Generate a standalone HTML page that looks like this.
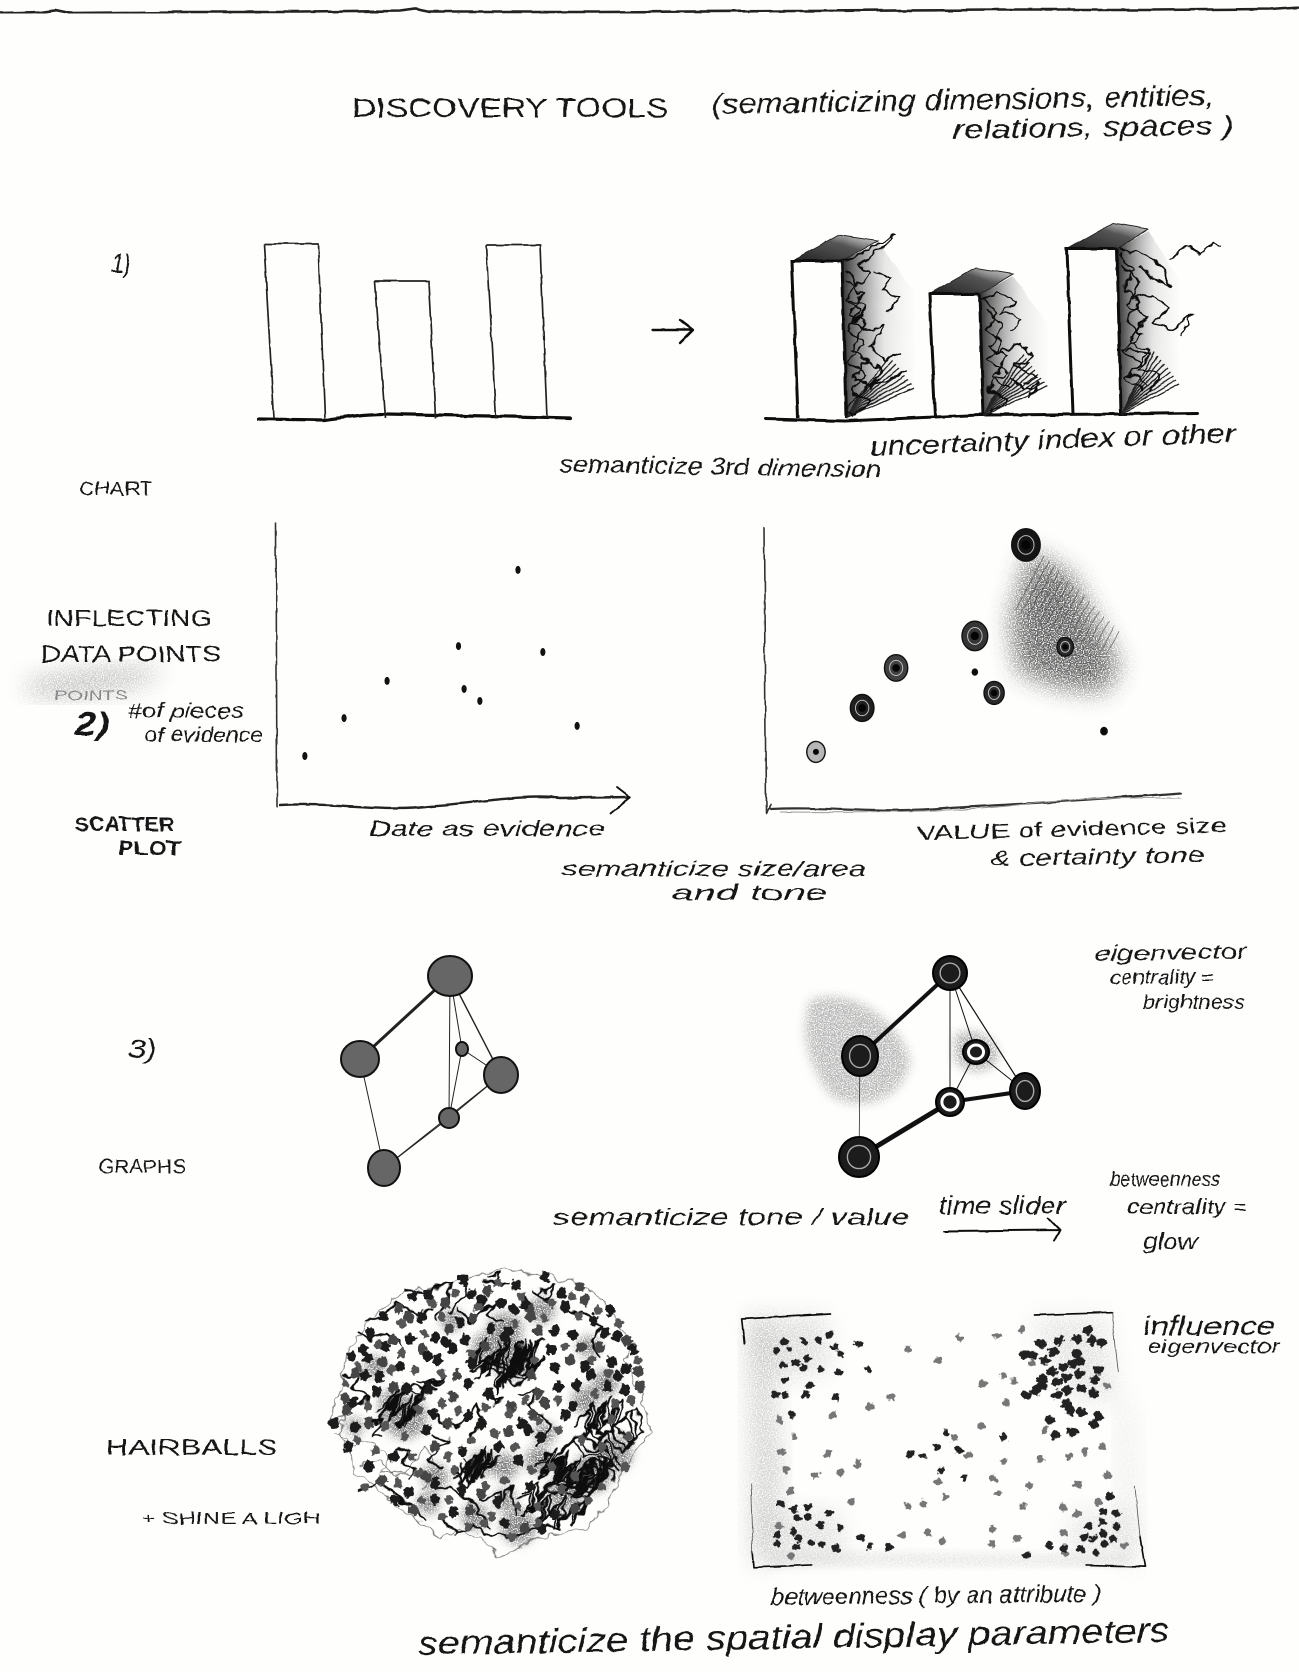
<!DOCTYPE html>
<html lang="en">
<head>
<meta charset="utf-8">
<title>Discovery Tools sketch</title>
<style>
html,body{margin:0;padding:0;background:#fefefd;}
svg{display:block;}
text{font-family:"Liberation Sans","DejaVu Sans",sans-serif;fill:#151515;font-style:italic;}
text.caps{font-style:normal;}
</style>
</head>
<body>
<svg id="sketch" xmlns="http://www.w3.org/2000/svg" width="1299" height="1672" viewBox="0 0 1299 1672">
<defs>
<filter id="wob" x="-5%" y="-5%" width="110%" height="110%"><feTurbulence type="fractalNoise" baseFrequency=".05" numOctaves="2" seed="3" result="n"/><feDisplacementMap in="SourceGraphic" in2="n" scale="3" xChannelSelector="R" yChannelSelector="G"/></filter>
<filter id="wobText" x="-2%" y="-5%" width="104%" height="110%"><feTurbulence type="fractalNoise" baseFrequency=".07" numOctaves="2" seed="8" result="n"/><feDisplacementMap in="SourceGraphic" in2="n" scale="4" xChannelSelector="R" yChannelSelector="G"/></filter>
<filter id="hair" x="-5%" y="-5%" width="110%" height="110%"><feTurbulence type="fractalNoise" baseFrequency=".09" numOctaves="2" seed="5" result="n"/><feDisplacementMap in="SourceGraphic" in2="n" scale="11" xChannelSelector="R" yChannelSelector="G"/></filter>
<filter id="blotch" x="-5%" y="-5%" width="110%" height="110%"><feTurbulence type="fractalNoise" baseFrequency=".2" numOctaves="2" seed="11" result="n"/><feDisplacementMap in="SourceGraphic" in2="n" scale="7" xChannelSelector="R" yChannelSelector="G"/></filter>
<filter id="pencil" x="-30%" y="-30%" width="160%" height="160%"><feGaussianBlur stdDeviation="12" result="b"/><feTurbulence type="fractalNoise" baseFrequency=".85" numOctaves="1" seed="2"/><feColorMatrix type="matrix" values="0 0 0 0 0 0 0 0 0 0 0 0 0 0 0 5 0 0 0 -1.7" result="g"/><feComposite in="b" in2="g" operator="in"/></filter>
<filter id="pencilSoft" x="-30%" y="-30%" width="160%" height="160%"><feGaussianBlur stdDeviation="5" result="b"/><feTurbulence type="fractalNoise" baseFrequency=".85" numOctaves="1" seed="6"/><feColorMatrix type="matrix" values="0 0 0 0 0 0 0 0 0 0 0 0 0 0 0 5 0 0 0 -1.7" result="g"/><feComposite in="b" in2="g" operator="in"/></filter>
<linearGradient id="sideTone" x1="0" x2="1" y1="0" y2="0"><stop offset="0" stop-color="#222" stop-opacity=".95"/><stop offset=".28" stop-color="#555" stop-opacity=".6"/><stop offset=".6" stop-color="#999" stop-opacity=".22"/><stop offset="1" stop-color="#bbb" stop-opacity=".03"/></linearGradient>
<linearGradient id="roofTone" x1="0" x2="1" y1="1" y2="0"><stop offset="0" stop-color="#222"/><stop offset=".6" stop-color="#555"/><stop offset="1" stop-color="#aaa" stop-opacity=".4"/></linearGradient>
</defs>

<rect x="0" y="0" width="1299" height="1672" fill="#fefefd"/>
<g filter="url(#wob)">
<path d="M0,13 L40,12 L55,10 L70,13 L180,12 L300,12 L400,11 L415,9 L430,12 L600,12 L800,11 L1000,10 L1150,10 L1270,9 L1299,7" fill="none" stroke="#222" stroke-width="2.6"/>
</g>

<g id="shades"></g>

<g filter="url(#wob)" id="ink"></g>
<g filter="url(#hair)" id="hairLayer"></g>
<g filter="url(#blotch)" id="blotchLayer"></g>
<g id="flat"></g>

<g filter="url(#wobText)">
<text class="caps" x="352" y="117" font-size="27" textLength="316" lengthAdjust="spacingAndGlyphs">DISCOVERY   TOOLS</text>
<text x="712" y="114" font-size="29" textLength="502" lengthAdjust="spacingAndGlyphs" transform="rotate(-1 712 114)">(semanticizing dimensions, entities,</text>
<text x="953" y="139" font-size="27" textLength="281" lengthAdjust="spacingAndGlyphs" transform="rotate(-1 953 139)">relations, spaces )</text>
<text x="111" y="272" font-size="25" textLength="20" lengthAdjust="spacingAndGlyphs">1)</text>
<text class="caps" x="79" y="495" font-size="19" textLength="74" lengthAdjust="spacingAndGlyphs">CHART</text>
<text x="559" y="472" font-size="24" textLength="322" lengthAdjust="spacingAndGlyphs" transform="rotate(1 559 472)">semanticize 3rd dimension</text>
<text x="870" y="456" font-size="27" textLength="366" lengthAdjust="spacingAndGlyphs" transform="rotate(-2.2 870 456)">uncertainty  index or other</text>

<text class="caps" x="46" y="626" font-size="23" textLength="166" lengthAdjust="spacingAndGlyphs">INFLECTING</text>
<text class="caps" x="41" y="662" font-size="23" textLength="180" lengthAdjust="spacingAndGlyphs">DATA  POINTS</text>
<text class="caps" x="54" y="700" font-size="15" textLength="74" lengthAdjust="spacingAndGlyphs" style="fill:#888">POINTS</text>
<text x="75" y="735" font-size="32" font-weight="bold" textLength="34" lengthAdjust="spacingAndGlyphs">2)</text>
<text x="128" y="718" font-size="21" textLength="116" lengthAdjust="spacingAndGlyphs">#of pieces</text>
<text x="145" y="742" font-size="21" textLength="118" lengthAdjust="spacingAndGlyphs">of evidence</text>
<text class="caps" x="75" y="831" font-size="20" font-weight="bold" textLength="99" lengthAdjust="spacingAndGlyphs">SCATTER</text>
<text class="caps" x="118" y="855" font-size="20" font-weight="bold" textLength="63" lengthAdjust="spacingAndGlyphs">PLOT</text>
<text x="369" y="836" font-size="21" textLength="236" lengthAdjust="spacingAndGlyphs">Date as evidence</text>
<text class="caps" x="917" y="840" font-size="20" textLength="310" lengthAdjust="spacingAndGlyphs" transform="rotate(-1.5 917 840)">VALUE  of evidence size</text>
<text x="990" y="866" font-size="22" textLength="215" lengthAdjust="spacingAndGlyphs" transform="rotate(-1 990 866)">&amp; certainty tone</text>
<text x="562" y="876" font-size="21" textLength="304" lengthAdjust="spacingAndGlyphs">semanticize size/area</text>
<text x="671" y="900" font-size="21" textLength="157" lengthAdjust="spacingAndGlyphs">and tone</text>

<text x="128" y="1058" font-size="27" textLength="28" lengthAdjust="spacingAndGlyphs">3)</text>
<text class="caps" x="98" y="1173" font-size="19" textLength="88" lengthAdjust="spacingAndGlyphs">GRAPHS</text>
<text x="553" y="1225" font-size="23" textLength="357" lengthAdjust="spacingAndGlyphs">semanticize tone / value</text>
<text x="939" y="1214" font-size="25" textLength="126" lengthAdjust="spacingAndGlyphs">time slider</text>
<text x="1094" y="961" font-size="21" textLength="153" lengthAdjust="spacingAndGlyphs" transform="rotate(-1 1094 961)">eigenvector</text>
<text x="1110" y="984" font-size="20" textLength="104" lengthAdjust="spacingAndGlyphs">centrality =</text>
<text x="1143" y="1009" font-size="20" textLength="102" lengthAdjust="spacingAndGlyphs">brightness</text>
<text x="1110" y="1186" font-size="20" textLength="110" lengthAdjust="spacingAndGlyphs">betweenness</text>
<text x="1127" y="1214" font-size="21" textLength="120" lengthAdjust="spacingAndGlyphs">centrality =</text>
<text x="1143" y="1249" font-size="22" textLength="54" lengthAdjust="spacingAndGlyphs">glow</text>

<text class="caps" x="106" y="1455" font-size="22" textLength="172" lengthAdjust="spacingAndGlyphs">HAIRBALLS</text>
<text class="caps" x="141" y="1524" font-size="17" textLength="180" lengthAdjust="spacingAndGlyphs">+ SHINE A LIGH</text>
<text x="1143" y="1335" font-size="27" textLength="132" lengthAdjust="spacingAndGlyphs">influence</text>
<text x="1147" y="1353" font-size="19" textLength="133" lengthAdjust="spacingAndGlyphs">eigenvector</text>
<text x="771" y="1605" font-size="24" textLength="330" lengthAdjust="spacingAndGlyphs" transform="rotate(-.6 771 1605)">betweenness ( by an attribute )</text>
<text x="418" y="1655" font-size="34" textLength="752" lengthAdjust="spacingAndGlyphs" transform="rotate(-1 418 1655)">semanticize the spatial display parameters</text>
</g>
</svg>

<script>
/* ---------- chart data ---------- */
const barCategories = ['a', 'b', 'c'];
const plainBarHeights = [174, 137, 173];
const semanticBarHeights = [157, 122, 165];
const barDepths = [72, 68, 62];

const plainEvidenceX = [68, 51, 75.1, 30.6, 52.6, 57.1, 18.3, 84.9, 7.1];
const plainEvidenceY = [88.5, 59.2, 56.9, 45.8, 42.7, 38.1, 31.5, 28.5, 16.9];

const valueEvidenceX = [73.7, 59.1, 84.9, 36.6, 59.1, 64.6, 26.9, 13.7, 96];
const valueEvidenceY = [100.4, 65.4, 61.2, 53.1, 51.5, 43.5, 37.7, 20.8, 28.8];
const evidenceCount = [240, 196, 80, 160, 8, 120, 165, 100, 12];
const evidenceTone = [.95, .8, .85, .75, 1, .85, .9, .2, 1];

const graphEdges = [[0,1,3],[0,2,1.4],[0,4,1],[0,3,1],[3,4,1],[3,2,1],[1,5,1],[2,4,1],[4,5,1],[2,5,1]];
const graphANodeX = [450, 360, 501, 462, 449, 384];
const graphANodeY = [976, 1059, 1075, 1049, 1118, 1168];
const graphANodeRx = [22, 19, 17, 6, 10, 16];
const graphANodeRy = [20, 18, 18, 7, 10, 18];

const graphBEdges = [[0,1,4],[0,4,1],[0,3,1],[0,2,1.2],[3,2,1],[3,4,1],[1,5,.7],[4,2,4],[4,5,5]];
const graphBNodeX = [950, 860, 1025, 976, 950, 859];
const graphBNodeY = [973, 1056, 1091, 1052, 1102, 1157];
const graphBNodeRx = [17, 18, 15, 13, 14, 20];
const graphBNodeRy = [17, 20, 18, 12, 14, 20];

const hairballDark = [[265,108],[310,105],[360,128],[405,187],[440,103],[487,90],[530,130],[567,148],[612,145],[660,50],[710,100],[780,120],[805,180],[855,150],[765,80],[575,75],[415,60],[222,145],[175,170],[135,220],[205,240],[257,238],[290,170],[372,205],[362,248],[420,240],[445,175],[498,205],[548,215],[618,170],[690,212],[745,225],[825,262],[875,230],[925,270],[905,245],[860,305],[905,325],[940,335],[850,380],[900,390],[945,380],[80,290],[130,295],[172,305],[115,270],[225,320],[290,268],[340,298],[310,290],[395,345],[430,370],[385,265],[480,260],[540,230],[680,270],[735,300],[780,320],[690,320],[620,345],[755,375],[800,345],[90,340],[162,350],[118,345],[60,415],[85,430],[155,395],[205,380],[245,385],[310,385],[385,410],[430,465],[490,400],[660,430],[745,440],[720,465],[625,465],[590,490],[610,510],[550,515],[650,530],[470,490],[370,490],[325,462],[305,510],[130,490],[90,500],[25,490],[65,450],[70,560],[205,590],[170,660],[250,695],[210,722],[265,750],[330,718],[385,760],[435,750],[520,725],[540,790],[600,805],[650,805],[690,765],[750,745],[615,680],[415,575],[305,650],[330,670],[470,120],[640,210],[720,140],[840,220],[770,260],[600,130],[330,230],[250,170],[180,260],[440,310],[640,400],[700,380],[880,350],[560,440],[520,560],[580,600],[330,560],[130,620],[410,690],[470,700]];
const hairballExtra = [[230,190],[320,130],[390,100],[520,70],[590,110],[680,130],[740,110],[820,150],[880,190],[760,170],[660,175],[570,190],[460,140],[350,170],[300,220],[230,280],[160,250],[100,320],[60,370],[200,330],[270,330],[350,340],[440,280],[630,300],[720,260],[800,300],[850,340],[940,300],[920,420],[870,430],[810,400],[700,420],[600,420],[550,460],[480,440],[400,450],[350,430],[280,450],[130,440],[180,500],[240,530],[100,540],[150,570],[260,590],[370,590],[440,540],[510,520],[570,560],[640,480],[700,510],[770,540],[860,480],[910,530],[900,620],[830,560],[750,650],[680,620],[620,630],[540,660],[480,680],[390,630],[280,640],[220,670],[120,680],[290,720],[370,720],[430,800],[500,770],[580,740],[640,740],[710,690],[790,720],[830,680],[640,790],[560,830],[480,790],[350,770]];
const hairballWash = [[540,210,40],[480,260,30],[650,150,30],[790,260,25],[240,470,50],[90,500,20],[330,650,30],[310,730,25],[450,770,30],[540,720,25],[540,620,30],[580,800,40],[840,370,30],[870,580,40],[660,520,25],[780,420,30],[380,180,25],[150,320,25],[640,600,30],[720,700,40],[800,640,45],[470,610,28],[560,300,45],[200,430,30]];
const hairballTangles = [
"440,290 470,250 450,320 490,300 470,340 510,260 500,330 540,250 525,380 565,300 545,370 590,240 565,340 610,250 590,320 635,250 605,330 640,300 600,360 560,345 520,320 480,310",
"170,440 205,400 180,460 230,390 200,470 250,420 230,490 270,430 250,480 290,400 310,370 350,365 290,385 260,375",
"400,640 440,600 420,660 470,570 450,650 490,580 480,640 510,600 470,620 440,670 420,640 400,615",
"640,600 680,580 660,640 720,590 700,650 750,600 730,670 790,610 770,680 830,620 810,690 860,600 880,640 840,560 790,570 760,530 720,560 690,600",
"760,480 800,440 790,520 840,420 830,500 880,430 870,500 920,450 940,530 900,560 860,510 820,540 780,500",
"590,700 630,680 620,750 670,710 650,780 710,720 700,790 760,730 750,780 800,700 770,690 720,680 670,670 640,720 600,760",
"670,620 710,600 690,660 740,630 720,690 780,640 760,700 820,650 800,600 850,620",
"490,50 530,40 500,70 545,75 480,65",
"240,90 300,100 330,80 380,65 360,130 340,170",
"120,180 170,170 210,130 240,150 285,160 320,150",
"100,215 130,240 180,220 230,250",
"60,350 110,340 80,390 130,410 90,440 60,420",
"130,490 170,480 140,530 170,530",
"320,530 370,545 340,570 310,600 350,620",
"220,570 260,565 230,610 270,630 250,660",
"105,690 170,660 200,700 270,750 300,780",
"350,780 400,820 440,800 480,830 520,820 570,840 610,810 650,800 700,800",
"340,470 350,495 400,500 450,430 470,480 440,530",
"500,420 530,410 510,430 495,395",
"590,400 640,390 610,440 660,470 680,500 640,560",
"730,150 790,170 830,200 800,240 820,290",
"640,100 690,70 660,120 620,90",
"400,150 440,190 480,150 510,130 490,170 530,180",
"430,70 400,130 370,160",
"470,720 530,700 520,740 560,680 570,770",
"330,680 380,690 430,720 470,760 490,800"
];
const hairballNet = [
"15,490 60,470 40,520 80,590 90,640 140,670 190,720 260,770 310,800 340,835 400,810 470,840 520,895 570,870 610,840 700,820 790,800 850,720 910,600 975,520 960,440 900,300 930,260 830,120 770,70 650,45 540,30 430,50 330,85 240,90 130,180 60,300 50,380 30,420 15,490",
"30,520 90,560 130,540 190,590 170,640 240,640 300,560 340,620 290,690",
"100,620 160,600 210,650 260,640"
];

const panelDarkDots = [[165,125],[178,148],[140,152],[222,125],[265,122],[298,103],[315,142],[330,162],[200,188],[232,175],[220,205],[160,195],[272,208],[326,218],[165,240],[385,132],[138,284],[165,285],[228,282],[318,290],[417,210],[240,255],[187,343],[152,612],[190,628],[232,620],[235,650],[202,655],[298,642],[270,675],[330,682],[190,695],[142,705],[205,715],[140,732],[200,740],[245,728],[275,735],[320,743],[395,713],[420,737],[475,741],[648,398],[620,441],[541,462],[578,467],[686,451],[823,410],[634,512],[703,534],[1075,90],[932,130],[988,122],[880,165],[910,165],[970,155],[1040,115],[1085,120],[1115,128],[945,182],[1040,160],[1030,190],[1000,200],[1050,185],[1105,210],[1095,240],[1050,222],[965,215],[938,236],[1010,232],[935,258],[980,245],[1055,265],[1012,270],[918,272],[890,285],[980,285],[1090,280],[1010,310],[1055,337],[1020,330],[960,360],[1028,395],[975,405],[1105,350],[1090,372],[1140,590],[1118,635],[1160,640],[1115,665],[1160,680],[1120,700],[1078,680],[1065,712],[1090,716],[1125,730],[1150,718],[958,737],[1000,745],[1053,748],[1097,757],[890,765]];
const panelGrayDots = [[422,321],[485,290],[308,344],[148,360],[194,411],[156,456],[294,461],[384,489],[170,510],[255,526],[328,518],[180,574],[364,605],[150,678],[183,767],[517,703],[596,697],[638,723],[534,619],[580,612],[534,146],[690,115],[800,108],[626,181],[758,253],[820,225],[851,244],[828,309],[876,90],[752,377],[672,414],[715,466],[823,483],[626,544],[790,536],[900,558],[932,477],[1019,469],[1063,455],[1118,441],[645,592],[805,582],[879,620],[787,687],[860,716],[785,732],[1043,553],[1133,525],[905,190],[1130,258],[945,390],[1000,623],[1040,643],[1105,605],[1000,698],[1185,737],[1005,760]];

/* ---------- axis functions ---------- */
const plainBarX = i => 294 + 111 * i;
const semanticBarX = i => 817 + 137.5 * i;
const plainX = v => 280 + v * 3.5;
const plainY = v => 800 - v * 2.6;
const valueX = v => 768 + v * 3.5;
const valueY = v => 806 - v * 2.6;
const evidenceRadius = v => Math.sqrt(v);

/* ---------- helpers ---------- */
const NS = 'http://www.w3.org/2000/svg';
const shades = document.getElementById('shades');
const ink = document.getElementById('ink');
const hairLayer = document.getElementById('hairLayer');
const blotchLayer = document.getElementById('blotchLayer');
const flat = document.getElementById('flat');
function mk(tag, attrs, parent) {
  const e = document.createElementNS(NS, tag);
  for (const k in attrs) e.setAttribute(k, attrs[k]);
  parent.appendChild(e);
  return e;
}
function toneGray(t) { const g = Math.round(225 - 215 * t); return 'rgb(' + g + ',' + g + ',' + g + ')'; }

/* ---------- static sketch lines ---------- */
const inkPaths = [
  ['baseline-left', 'M259,419 L325,420 C345,417 365,414 385,414 L490,416 L570,418', 3.2, '#111'],
  ['transform-arrow', 'M653,330 L693,330 M680,320 L693,330 L680,343', 2.4, '#111'],
  ['baseline-right', 'M766,419 L845,421 L980,415 L1120,414 L1197,413', 3, '#111'],
  ['left-scatter-y-axis', 'M276,523 L277,807', 1.6, '#333'],
  ['left-scatter-x-axis', 'M280,805 C340,802 380,812 430,806 C480,803 520,794 560,798 L630,797', 2.4, '#222'],
  ['left-scatter-x-arrowhead', 'M617,787 L630,797 L611,813', 1.8, '#111'],
  ['right-scatter-y-axis', 'M764,527 L766,813 L770,805', 1.6, '#333'],
  ['right-scatter-x-axis', 'M770,809 C830,806 880,815 950,808 C1020,804 1090,800 1181,793', 2.2, '#333'],
  ['right-scatter-x-axis-echo', 'M780,812 C860,812 950,815 1040,802 C1100,797 1140,798 1181,798', 1, '#999'],
  ['time-slider-arrow', 'M944,1231 L1060,1230 M1048,1218 L1060,1230 L1054,1241', 2, '#111'],
  ['panel-corner-top-left', 'M43,130 L35,57 L300,42', 5, '#111', 'panel'],
  ['panel-corner-top-right', 'M915,45 L1145,38', 5, '#111', 'panel'],
  ['panel-edge-top-right', 'M1145,38 L1165,215', 2.5, '#555', 'panel'],
  ['panel-corner-bottom-left', 'M68,755 L72,802 L245,795', 5, '#111', 'panel'],
  ['panel-edge-bottom-left', 'M62,555 L68,755', 2.5, '#555', 'panel'],
  ['panel-corner-bottom-right', 'M1230,710 L1245,800 L1070,795', 5, '#111', 'panel'],
  ['panel-edge-bottom-right', 'M1215,560 L1230,710', 2.5, '#555', 'panel']
];
const panelGroup = mk('g', {transform: 'translate(730 1300) scale(.3333)'}, ink);


inkPaths.forEach(p => {
  const e = mk('path', {d: p[1], fill: 'none', stroke: p[3], 'stroke-width': p[2], 'stroke-linecap': 'round', 'stroke-linejoin': 'round'}, p[4] ? panelGroup : ink);
  
  
});

/* ---------- pencil shading ---------- */
const shadeBlobs = [
  ['scatter-uncertainty-shadow', 'M1030,550 L1072,575 L1120,665 L1105,692 L1060,688 L1018,672 L1010,620 Z', '#333', .78, 'pencil'],
  ['notes-smudge', 'M22,684 C50,672 130,666 160,668 C165,682 100,698 34,696 Z', '#777', .55, 'pencil'],
  ['graph-glow-large', 'M810,1000 C850,985 900,1020 910,1060 C905,1100 860,1115 830,1095 C805,1060 800,1030 810,1000 Z', '#777', .5, 'pencilSoft'],
  ['graph-glow-small', 'M955,1035 C975,1025 998,1040 998,1055 C995,1075 965,1075 955,1060 Z', '#777', .65, 'pencilSoft'],
  ['panel-wash-left', 'M748,1320 L768,1320 L782,1480 L768,1565 L754,1565 Z', '#888', .42, 'pencil'],
  ['panel-wash-top-left', 'M750,1318 L825,1316 L830,1370 L765,1380 Z', '#999', .35, 'pencil'],
  ['panel-wash-top-right', 'M1030,1318 L1105,1316 L1118,1400 L1070,1400 Z', '#999', .28, 'pencil'],
  ['panel-wash-right', 'M1118,1400 L1130,1400 L1140,1565 L1122,1565 Z', '#aaa', .28, 'pencil'],
  ['panel-wash-bottom', 'M770,1552 L1130,1555 L1130,1566 L770,1566 Z', '#aaa', .3, 'pencilSoft'],
  ['panel-wash-bottom-left', 'M755,1510 L835,1510 L850,1555 L765,1560 Z', '#999', .3, 'pencil'],
  ['panel-wash-bottom-right', 'M1075,1510 L1130,1510 L1135,1555 L1060,1555 Z', '#aaa', .28, 'pencil']
];
shadeBlobs.forEach(b => {
  const e = mk('path', {d: b[1], fill: b[2], opacity: b[3], filter: 'url(#' + b[4] + ')'}, shades);
  
  
});
for (let k = 0; k < 16; k++) {
  const h = mk('line', {x1: 1016 + k * 6, y1: 610 + k * 3, x2: 1044 + k * 5, y2: 556 + k * 5, stroke: '#444', 'stroke-width': .9, opacity: .6}, ink);
  
  
}

/* ---------- plain bar chart ---------- */
barCategories.forEach((c, i) => {
  const x = plainBarX(i);
  const h = plainBarHeights[i];
  const e = mk('path', {d: 'M' + (x - 30) + ',' + (418 - h) + ' L' + (x + 24) + ',' + (418 - h) + ' L' + (x + 31) + ',418 M' + (x - 30) + ',' + (418 - h) + ' L' + (x - 20) + ',418', fill: 'none', stroke: '#222', 'stroke-width': 1.7}, ink);
  
  
});

/* ---------- semantic bar chart ---------- */
const sideScribbles = [
  ["2,6 14,20 4,40 18,50 6,70 22,84 5,100 24,114 8,130 30,140 10,155 5,145 20,130 38,118",
   "0,2 22,-8 40,-20 52,-24 36,-10 18,4 30,14 12,26",
   "6,40 26,44 12,62 30,70 44,64 28,86 42,98 60,92",
   "4,22 20,34 8,52 24,62 10,88 26,98 12,118 30,126",
   "34,10 50,18 40,30 58,34 46,50",
   "20,96 40,108 30,124 52,118 62,110"],
  ["2,4 18,18 6,36 24,48 8,66 26,78 8,96 28,106 12,118",
   "2,6 20,-2 36,6 22,20 42,24 30,36",
   "18,58 40,50 54,62 36,72 60,84 44,90",
   "6,14 22,30 10,54 28,62 14,84 30,94",
   "30,84 46,96 60,90 50,104"],
  ["2,4 18,22 6,40 22,54 8,72 26,86 6,100 24,116 8,130 26,140",
   "2,2 26,4 44,18 52,36 36,30 22,16",
   "14,50 36,44 52,60 34,74 58,80 76,64 62,90",
   "10,100 34,104 22,122 44,126 30,146",
   "4,16 24,32 10,56 30,68 12,92 32,102 14,126 34,136",
   "54,10 70,-2 84,6 96,-6 104,-2"]
];
barCategories.forEach((c, i) => {
  const cx = semanticBarX(i);
  const h = semanticBarHeights[i];
  const d = barDepths[i];
  const left = cx - 25, right = cx + 25, bottom = 418 - i * 2, top = bottom - h;
  const side = mk('path', {d: 'M' + right + ',' + top + ' L' + (right + d * .5) + ',' + (top - 18) + ' L' + (right + d) + ',' + (top + 30) + ' L' + (right + d) + ',' + (bottom - 34) + ' L' + (right + 3) + ',' + bottom + ' Z', fill: 'url(#sideTone)'}, ink);
  
  
  const roof = mk('path', {d: 'M' + left + ',' + top + ' L' + (left + 46) + ',' + (top - 26) + ' L' + (right + d * .5) + ',' + (top - 20) + ' L' + right + ',' + top + ' Z', fill: 'url(#roofTone)', stroke: '#222', 'stroke-width': 1}, ink);
  
  
  const front = mk('path', {d: 'M' + right + ',' + top + ' L' + left + ',' + top + ' L' + (left + 6) + ',' + bottom + ' M' + right + ',' + top + ' L' + (right + 4) + ',' + bottom, fill: 'none', stroke: '#111', 'stroke-width': 3}, ink);
  
  
  for (let k = 0; k < 9; k++) {
    const hatch = mk('line', {x1: right + 4 + k, y1: bottom - k * 2, x2: right + d - k * 3, y2: bottom - 30 - k * 4, stroke: '#222', 'stroke-width': 1.3}, ink);
    
    
  }
  sideScribbles[i].forEach(s => {
    const g = mk('polyline', {points: s, transform: 'translate(' + right + ' ' + top + ')', fill: 'none', stroke: '#111', 'stroke-width': 1.8, 'stroke-linejoin': 'round'}, hairLayer);
    
    
  });
});

/* ---------- scatter plots ---------- */
plainEvidenceX.forEach((v, i) => {
  const e = mk('ellipse', {cx: plainX(v), cy: plainY(plainEvidenceY[i]), rx: 2.6, ry: 4, fill: '#111'}, flat);
  
  
});
valueEvidenceX.forEach((v, i) => {
  const x = valueX(v), y = valueY(valueEvidenceY[i]), r = evidenceRadius(evidenceCount[i]);
  const outer = mk('ellipse', {cx: x, cy: y, rx: r * .92, ry: r * 1.05, fill: toneGray(evidenceTone[i]), stroke: '#111', 'stroke-width': 1.4}, flat);
  
  
  if (r > 6) {
    const ring = mk('ellipse', {cx: x, cy: y, rx: r * .52, ry: r * .6, fill: 'none', stroke: '#bbb', 'stroke-width': 1}, flat);
    
    
    const core = mk('circle', {cx: x, cy: y, r: r * .3, fill: '#050505'}, flat);
    
    
  }
});

/* ---------- node-link graphs ---------- */
graphEdges.forEach(p => {
  const e = mk('line', {x1: graphANodeX[p[0]], y1: graphANodeY[p[0]], x2: graphANodeX[p[1]], y2: graphANodeY[p[1]], stroke: '#222', 'stroke-width': p[2]}, flat);
  
  
});
graphANodeX.forEach((x, i) => {
  const e = mk('ellipse', {cx: x, cy: graphANodeY[i], rx: graphANodeRx[i], ry: graphANodeRy[i], fill: '#666', stroke: '#111', 'stroke-width': 2}, flat);
  
  
});
graphBEdges.forEach(p => {
  const e = mk('line', {x1: graphBNodeX[p[0]], y1: graphBNodeY[p[0]], x2: graphBNodeX[p[1]], y2: graphBNodeY[p[1]], stroke: '#111', 'stroke-width': p[2]}, flat);
  
  
});
graphBNodeX.forEach((x, i) => {
  const y = graphBNodeY[i], rx = graphBNodeRx[i], ry = graphBNodeRy[i];
  const e = mk('ellipse', {cx: x, cy: y, rx: rx, ry: ry, fill: '#1c1c1c', stroke: '#000', 'stroke-width': 2}, flat);
  
  
  const ring = mk('ellipse', {cx: x, cy: y, rx: rx * .58, ry: ry * .58, fill: 'none', stroke: i === 3 || i === 4 ? '#fff' : '#aaa', 'stroke-width': i === 3 || i === 4 ? 3 : 1.4}, flat);
  
  
});

/* ---------- hairball ---------- */
const hairWashOuter = mk('g', {filter: 'url(#pencilSoft)'}, shades);


const hairWash = mk('g', {transform: 'translate(325 1260) scale(.3333)'}, hairWashOuter);


hairballWash.forEach(w => {
  const e = mk('circle', {cx: w[0], cy: w[1], r: w[2] * 1.3, fill: '#777'}, hairWash);
  
  
});
const hairInk = mk('g', {transform: 'translate(325 1260) scale(.3333)'}, hairLayer);


hairballNet.forEach(s => {
  const e = mk('polyline', {points: s, fill: 'none', stroke: '#666', 'stroke-width': 2.6, 'stroke-linejoin': 'round'}, hairInk);
  
  
});
hairballTangles.forEach((s, i) => {
  const e = mk('polyline', {points: s, fill: 'none', stroke: '#0a0a0a', 'stroke-width': 7, 'stroke-linejoin': 'round', 'stroke-linecap': 'round'}, hairInk);
  
  
  if (i < 7) {
    const e2 = mk('polyline', {points: s, transform: 'translate(14 -12)', fill: 'none', stroke: '#0a0a0a', 'stroke-width': 6, 'stroke-linejoin': 'round'}, hairInk);
    
    
    const e3 = mk('polyline', {points: s, transform: 'translate(-12 16)', fill: 'none', stroke: '#0a0a0a', 'stroke-width': 6, 'stroke-linejoin': 'round'}, hairInk);
    
    
  }
});
const hairDots = mk('g', {transform: 'translate(325 1260) scale(.3333)'}, blotchLayer);


hairballDark.forEach((p, i) => {
  const e = mk('ellipse', {cx: p[0], cy: p[1], rx: 15, ry: 17, fill: i % 3 === 2 ? '#444' : '#1e1e1e'}, hairDots);
  
  
});
hairballExtra.forEach(p => {
  const e = mk('ellipse', {cx: p[0], cy: p[1], rx: 13, ry: 14, fill: '#555'}, hairDots);
  
  
});

/* ---------- density panel ---------- */
const panelDots = mk('g', {transform: 'translate(730 1300) scale(.3333)'}, blotchLayer);


panelGrayDots.forEach(p => {
  const e = mk('ellipse', {cx: p[0], cy: p[1], rx: 12, ry: 11, fill: '#777'}, panelDots);
  
  
});
panelDarkDots.forEach(p => {
  const big = p[0] > 860 && p[1] < 420;
  const e = mk('ellipse', {cx: p[0], cy: p[1], rx: big ? 16 : 12, ry: big ? 14 : 11, fill: '#222'}, panelDots);
  
  
});
</script>
</body>
</html>
